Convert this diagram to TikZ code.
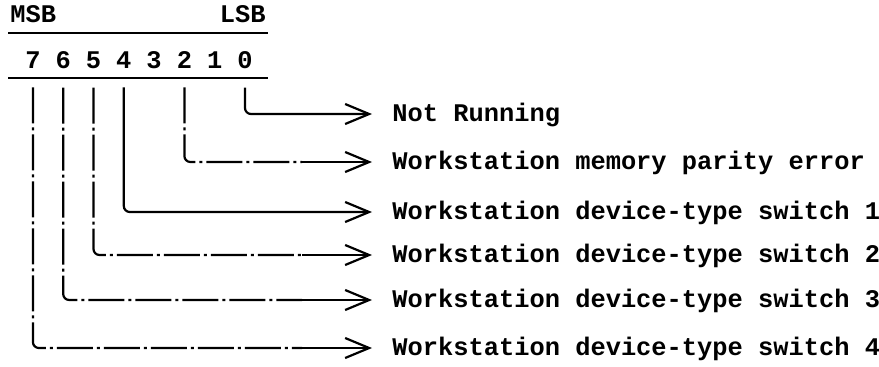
\documentclass[tikz,border=0pt]{standalone}
\usepackage{fontspec}
\setmonofont{Liberation Mono}
\usetikzlibrary{arrows.meta}

\begin{document}
\begin{tikzpicture}[x=0.5pt,y=-0.5pt,
 txt/.style={font=\ttfamily\bfseries\fontsize{12.7}{15}\selectfont,inner sep=0pt},
 bit/.style={txt,anchor=base},
 lbl/.style={txt,anchor=west,text height=7.2pt,text depth=0pt},
 wire/.style={line width=1.1pt,rounded corners=3pt,shorten <=9.5pt},
 arr/.style={-{Straight Barb[length=12pt,width=10pt]},line width=1.1pt,shorten >=10pt},
 dd/.style={dash pattern=on 18pt off 2pt on 1.5pt off 2pt}]
\useasboundingbox (0,0) rectangle (879,366);
\node[txt,anchor=base west] (msb) at (10,22) {MSB};
\node[txt,anchor=base east] (lsb) at (266,22) {LSB};
\draw[line width=1.1pt] (8,33) -- (268,33);
\foreach \i in {0,...,7}
 \node[bit] (b\i) at ({245-30.3*\i},68) {\i};
\draw[line width=1.1pt] (8,78) -- (268,78);
\node[lbl] (l0) at (392,114) {Not Running};
\node[lbl] (l2) at (392,162) {Workstation memory parity error};
\node[lbl] (l4) at (392,212) {Workstation device-type switch 1};
\node[lbl] (l5) at (392,255) {Workstation device-type switch 2};
\node[lbl] (l6) at (392,300) {Workstation device-type switch 3};
\node[lbl] (l7) at (392,348) {Workstation device-type switch 4};
\draw[wire,arr] (b0.south) |- (l0.west);
\draw[wire,arr] (b4.south) |- (l4.west);
\foreach \i in {2,5,6,7}{
 \draw[wire,dd] (b\i.south) |- ([xshift=-45pt]l\i.west);
 \draw[arr] ([xshift=-45pt]l\i.west) -- (l\i.west);
}
\end{tikzpicture}
\end{document}
